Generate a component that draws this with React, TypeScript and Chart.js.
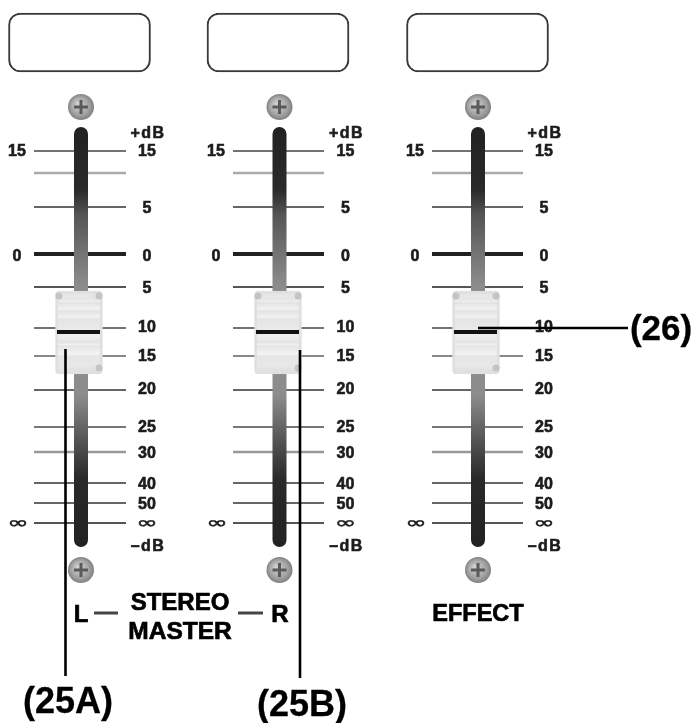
import React, { useEffect, useRef } from "react";
import { Chart, registerables } from "chart.js";

Chart.register(...registerables);

const WIDTH = 692;
const HEIGHT = 723;

// Channel layout in the diagram's coordinate units
const trackXs = [81, 279.5, 478];
const knobXs = [79, 278, 476];
const tickRanges = [[34, 126], [233, 324], [432, 523]];
const rightLabelXs = [147, 345.5, 544];
const leftLabelXs = [17, 216, 415];
const boxXs = [79.5, 278, 477.5];

const tickYs = [151, 173, 207, 254, 287, 328, 356, 390, 427, 452, 483, 503, 523];
const tickLabels = ["15", "", "5", "0", "5", "10", "15", "20", "25", "30", "40", "50", "∞"];
const labelYs = [151, 173, 208, 255.5, 288, 327, 355.5, 389, 426.5, 453, 484, 504, 524];
const tickColors = ["#444", "#aaa", "#666", "#222", "#555", "#444", "#888", "#666", "#777", "#999", "#666", "#666", "#555"];
const tickWidths = [1.6, 2.6, 2, 4, 2, 1.6, 2.2, 2.2, 2.2, 2.4, 2, 2, 1.8];
const leftLabels = [["15", 151], ["0", 255.5], ["∞", 524]] as const;

const trackY = [134, 540];
const trackStops: [number, string][] = [
  [127, "#222222"], [190, "#2a2a2a"], [215, "#555555"], [285, "#8c8c8c"],
  [395, "#8c8c8c"], [440, "#555555"], [478, "#2a2a2a"], [547, "#222222"],
];
const screwYs = [107, 570];
const knobY: [number, number] = [291, 374];
const knobLineY = 332;
const knobBands: [number, string][] = [
  [291, "#e6e6e6"], [300, "#e6e6e6"], [301, "#f0f0f0"], [303, "#e2e2e2"], [309, "#f2f2f2"], [311, "#e2e2e2"],
  [317, "#f2f2f2"], [319, "#e4e4e4"], [337, "#eeeeee"], [343, "#e2e2e2"], [344, "#f4f4f4"],
  [346, "#e4e4e4"], [354, "#f4f4f4"], [356, "#e6e6e6"], [365, "#e8e8e8"], [374, "#dddddd"],
];
const boxY: [number, number] = [13, 72];

const annotationLines = [
  [[65.5, 349], [65.5, 676]],
  [[300, 350], [300, 678]],
  [[478, 328], [628, 328]],
];
const dashes = [[[94, 613], [118, 613]], [[238, 613], [263, 613]]];

const mediumFont = 'bold 16px "Liberation Sans"';
const infinityFont = '16px "DejaVu Sans"';
const texts: [string, number, number, string, number][] = [
  ["L", 81, 615, 'bold 24px "Liberation Sans"', 0.7],
  ["R", 280, 615, 'bold 24px "Liberation Sans"', 0.7],
  ["STEREO", 180, 603, 'bold 24px "Liberation Sans"', 0.7],
  ["MASTER", 180, 632, 'bold 24.5px "Liberation Sans"', 0.7],
  ["EFFECT", 478, 615, 'bold 23.5px "Liberation Sans"', 0.7],
  ["(25A)", 68, 703, 'bold 36px "Liberation Sans"', 0.3],
  ["(25B)", 302, 706, 'bold 36px "Liberation Sans"', 0.3],
  ["(26)", 661, 330, 'bold 35px "Liberation Sans"', 0.3],
];

const line = (points: number[][], color: any, width: number, order: number, cap: CanvasLineCap = "butt") => ({
  type: "scatter" as const,
  showLine: true,
  data: points.map(([x, y]) => ({ x, y })),
  borderColor: color,
  borderWidth: width,
  borderCapStyle: cap,
  pointRadius: 0,
  order,
  clip: false,
});

const verticalGradient = (stops: [number, string][]) => (c: any) => {
  const { chart } = c;
  if (!chart.chartArea) return stops[0][1];
  const s = chart.scales.y;
  const y0 = s.getPixelForValue(stops[0][0]);
  const y1 = s.getPixelForValue(stops[stops.length - 1][0]);
  const g = chart.ctx.createLinearGradient(0, y0, 0, y1);
  stops.forEach(([v, col]) => g.addColorStop((s.getPixelForValue(v) - y0) / (y1 - y0), col));
  return g;
};

const screwFill = (c: any) => {
  const { chart } = c;
  if (!chart.chartArea || !c.raw) return "#999";
  const px = chart.scales.x.getPixelForValue(c.raw.x);
  const py = chart.scales.y.getPixelForValue(c.raw.y);
  const g = chart.ctx.createRadialGradient(px - 3, py - 3, 1, px, py, 13);
  g.addColorStop(0, "#d0d0d0");
  g.addColorStop(0.7, "#a0a0a0");
  g.addColorStop(1, "#808080");
  return g;
};

const textPlugin = {
  id: "diagramText",
  beforeDatasetsDraw(chart: any) {
    const { ctx, scales } = chart;
    ctx.save();
    ctx.fillStyle = "#1c1c1c";
    ctx.strokeStyle = "#1c1c1c";
    ctx.lineWidth = 0.6;
    ctx.textAlign = "center";
    ctx.textBaseline = "middle";
    const put = (t: string, x: number, y: number, font: string, spacing = "0px") => {
      ctx.font = font;
      (ctx as any).letterSpacing = spacing;
      const px = scales.x.getPixelForValue(x);
      const py = scales.y.getPixelForValue(y);
      ctx.fillText(t, px, py);
      ctx.strokeText(t, px, py);
    };
    // The infinity mark is stretched sideways, as in the source artwork.
    const putInfinity = (x: number, y: number) => {
      ctx.save();
      ctx.translate(scales.x.getPixelForValue(x), scales.y.getPixelForValue(y));
      ctx.scale(1.6, 1);
      ctx.font = infinityFont;
      ctx.lineWidth = 0.5;
      ctx.fillText("∞", 0, 0);
      ctx.strokeText("∞", 0, 0);
      ctx.restore();
    };
    trackXs.forEach((_, i) => {
      tickLabels.forEach((t, j) => {
        if (!t) return;
        if (t === "∞") putInfinity(rightLabelXs[i], labelYs[j]);
        else put(t, rightLabelXs[i], labelYs[j] + 1, mediumFont);
      });
      leftLabels.forEach(([t, y]) => {
        if (t === "∞") putInfinity(leftLabelXs[i] + 1, y);
        else put(t, leftLabelXs[i], y + 1, mediumFont);
      });
      put("+dB", rightLabelXs[i] + 1, 133.5, mediumFont, "1.5px");
      put("–dB", rightLabelXs[i] + 1, 547, mediumFont, "1.5px");
    });
    ctx.restore();
  },
  afterDatasetsDraw(chart: any) {
    const { ctx, scales } = chart;
    ctx.save();
    ctx.fillStyle = "#000";
    ctx.strokeStyle = "#000";
    ctx.textAlign = "center";
    ctx.textBaseline = "middle";
    texts.forEach(([t, x, y, font, weight]) => {
      ctx.font = font;
      ctx.lineWidth = weight;
      const px = scales.x.getPixelForValue(x);
      const py = scales.y.getPixelForValue(y);
      ctx.fillText(t, px, py);
      ctx.strokeText(t, px, py);
    });
    ctx.restore();
  },
};

export default function App() {
  const ref = useRef<HTMLCanvasElement>(null);
  useEffect(() => {
    const datasets: any[] = [];
    // Annotation leader lines, on top
    annotationLines.forEach((p) => datasets.push(line(p, "#000", 2.6, 0)));
    dashes.forEach((p) => datasets.push(line(p, "#444", 3, 1)));

    trackXs.forEach((tx, i) => {
      const kx = knobXs[i];
      // Knob centre line
      datasets.push(line([[kx - 22, knobLineY], [kx + 21, knobLineY]], "#111", 4, 2));
      // Knob corner shading
      datasets.push({
        type: "scatter",
        data: [[kx - 20, 296], [kx + 20, 296], [kx + 20, 368]].map(([x, y]) => ({ x, y })),
        backgroundColor: "#c4c4c4",
        pointRadius: 3.5,
        pointBorderWidth: 0,
        order: 3,
        clip: false,
      });
      // Knob body
      datasets.push({
        type: "bar",
        grouped: false,
        data: [{ x: kx, y: knobY }],
        barThickness: 47,
        backgroundColor: verticalGradient(knobBands),
        borderColor: "#e0e0e0",
        borderWidth: 3,
        borderRadius: 4,
        borderSkipped: false,
        order: 4,
      });
      // Track
      datasets.push(line(trackY.map((y) => [tx, y]), verticalGradient(trackStops), 14, 5, "round"));
      // Ticks
      tickYs.forEach((y, j) => {
        datasets.push(line([[tickRanges[i][0], y], [tickRanges[i][1], y]], tickColors[j], tickWidths[j], 6));
      });
      // Screws
      datasets.push({
        type: "scatter",
        data: screwYs.map((y) => ({ x: tx, y })),
        pointStyle: "cross",
        pointRadius: 7,
        pointBorderWidth: 3,
        pointBorderColor: "#5a5a5a",
        order: 3,
        clip: false,
      });
      datasets.push({
        type: "scatter",
        data: screwYs.map((y) => ({ x: tx, y })),
        pointRadius: 13,
        pointBorderWidth: 0,
        backgroundColor: screwFill,
        order: 6,
        clip: false,
      });
      // Display box
      datasets.push({
        type: "bar",
        grouped: false,
        data: [{ x: boxXs[i], y: boxY }],
        barThickness: 142,
        backgroundColor: "#fff",
        borderColor: "#3a3a3a",
        borderWidth: 2,
        borderRadius: 12,
        borderSkipped: false,
        order: 7,
      });
    });

    const chart = new Chart(ref.current!, {
      type: "scatter",
      data: { datasets },
      options: {
        animation: false,
        responsive: false,
        layout: { padding: 0, autoPadding: false },
        plugins: { legend: { display: false }, tooltip: { enabled: false }, title: { display: false } },
        events: [],
        scales: {
          x: { type: "linear", min: 0, max: WIDTH, display: false, offset: false },
          y: { type: "linear", min: 0, max: HEIGHT, reverse: true, display: false },
        },
      },
      plugins: [textPlugin],
    } as any);
    return () => chart.destroy();
  }, []);
  return (
    <div style={{ position: "absolute", left: 0, top: 0, width: WIDTH, height: HEIGHT, background: "#fff", overflow: "hidden" }}>
      <canvas ref={ref} width={WIDTH} height={HEIGHT} style={{ display: "block", filter: "blur(0.7px)" }} />
    </div>
  );
}
